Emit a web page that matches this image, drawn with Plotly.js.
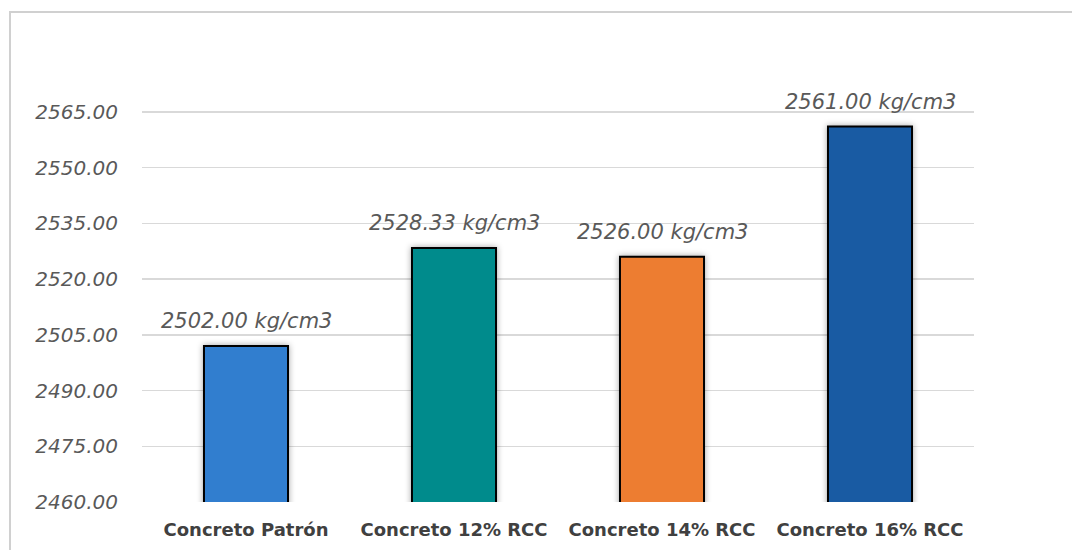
<!DOCTYPE html>
<html>
<head>
<meta charset="utf-8">
<script src="https://cdn.plot.ly/plotly-3.0.1.min.js"></script>
<style>
  html, body { margin: 0; padding: 0; background: #ffffff; }
  #wrap { position: relative; width: 1072px; height: 550px; overflow: hidden; }
  #frame {
    position: absolute; left: 9px; top: 11px; width: 1100px; height: 600px;
    border-left: 2px solid #d0d0d0; border-top: 2px solid #d0d0d0;
    pointer-events: none;
  }
  #chart { position: absolute; left: 0; top: 0; width: 1072px; height: 550px; }
  .trace.bars .point path { filter: drop-shadow(0 0 3px rgba(0,0,0,0.35)); }
</style>
</head>
<body>
<div id="wrap">
  <div id="chart"></div>
  <div id="frame"></div>
</div>
<script>
// Densidad del concreto por mezcla
const categories = ["Concreto Patrón", "Concreto 12% RCC", "Concreto 14% RCC", "Concreto 16% RCC"];
const densities = [2502.00, 2528.33, 2526.00, 2561.00];
const barColors = ["#317ECF", "#008B8C", "#ED7D31", "#195BA3"];
const tickValues = [2460, 2475, 2490, 2505, 2520, 2535, 2550, 2565];

const labels = densities.map(v => v.toFixed(2) + " kg/cm3");
const FONT = "'DejaVu Sans', 'Open Sans', sans-serif";

const trace = {
  type: "bar",
  x: categories,
  y: densities,
  marker: { color: barColors, line: { color: "#000000", width: 2 } },
  hoverinfo: "none"
};

// Value labels floated above each bar
const valueLabels = categories.map((c, i) => ({
  x: c,
  y: densities[i],
  xref: "x",
  yref: "y",
  text: labels[i],
  showarrow: false,
  xanchor: "center",
  yanchor: "middle",
  yshift: 25,
  font: { family: FONT, size: 21, color: "#595959", style: "italic" }
}));

const layout = {
  width: 1072,
  height: 550,
  margin: { l: 142, r: 98, t: 56, b: 48 },
  paper_bgcolor: "rgba(0,0,0,0)",
  plot_bgcolor: "rgba(0,0,0,0)",
  showlegend: false,
  bargap: 0.596,
  annotations: valueLabels,
  xaxis: {
    type: "category",
    showgrid: false,
    showline: false,
    zeroline: false,
    ticks: "",
    ticklabelstandoff: 15,
    tickfont: { family: FONT, size: 18, color: "#404040", weight: "bold" }
  },
  yaxis: {
    range: [2460, 2580],
    tickvals: tickValues,
    ticktext: tickValues.map(v => v.toFixed(2)),
    showgrid: true,
    gridcolor: "#d9d9d9",
    gridwidth: 1.5,
    zeroline: false,
    showline: false,
    ticks: "",
    ticklabelstandoff: 23,
    tickfont: { family: FONT, size: 20, color: "#595959", style: "italic" }
  }
};

Plotly.newPlot("chart", [trace], layout, { displayModeBar: false, staticPlot: true });
</script>
</body>
</html>
